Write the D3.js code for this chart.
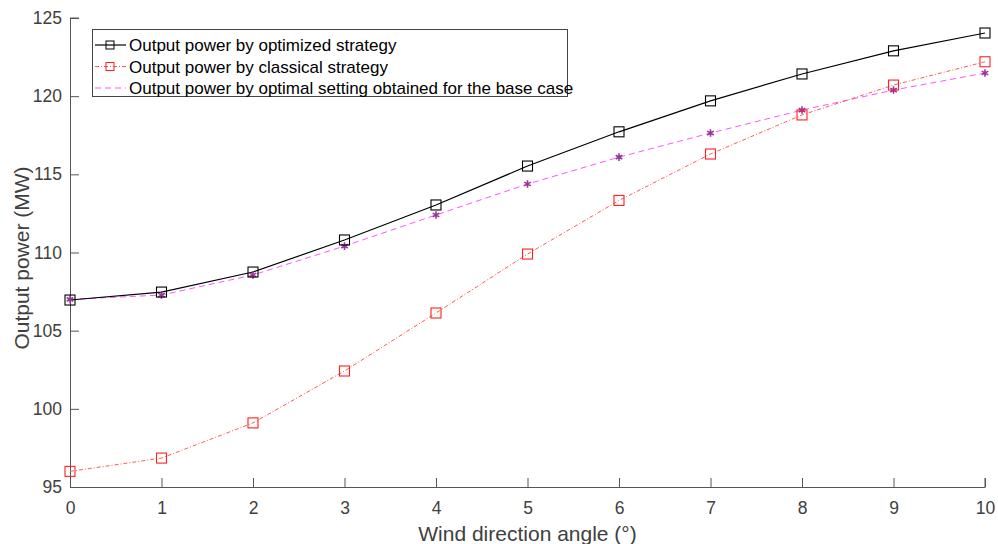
<!DOCTYPE html>
<html>
<head>
<meta charset="utf-8">
<script src="https://cdn.jsdelivr.net/npm/d3@7"></script>
<style>
  body { margin: 0; background: #fff; }
  svg { display: block; font-family: Arial, "Liberation Sans", Helvetica, sans-serif; }
</style>
</head>
<body>
<svg id="chart" width="998" height="544"></svg>
<script>
// wind direction angle (deg)
const angles = [0, 1, 2, 3, 4, 5, 6, 7, 8, 9, 10];
const optimized = [106.96, 107.47, 108.75, 110.8, 113.04, 115.53, 117.72, 119.7, 121.42, 122.9, 124.04];
const classical = [96.0, 96.85, 99.1, 102.42, 106.13, 109.9, 113.33, 116.3, 118.8, 120.71, 122.2];
const baseCase = [107.0, 107.28, 108.56, 110.41, 112.4, 114.38, 116.1, 117.64, 119.11, 120.39, 121.48];
const yTicks = [95, 100, 105, 110, 115, 120, 125];
const legendLabels = [
  "Output power by optimized strategy",
  "Output power by classical strategy",
  "Output power by optimal setting obtained for the base case"
];

const svg = d3.select("#chart");
const margin = { left: 70, right: 13, top: 18, bottom: 57 };
const width = 998, height = 544;

const x = d3.scaleLinear().domain([0, 10]).range([margin.left, width - margin.right]);
const y = d3.scaleLinear().domain([95, 125]).range([height - margin.bottom, margin.top]);

const axisColor = "#555";
const textColor = "#404040";

// axes (ticks point inward like MATLAB)
const xAxis = svg.append("g")
  .attr("transform", `translate(0,${y(95)})`)
  .call(d3.axisBottom(x).tickValues(angles).tickSize(-9).tickPadding(15).tickSizeOuter(0));
const yAxis = svg.append("g")
  .attr("transform", `translate(${x(0)},0)`)
  .call(d3.axisLeft(y).tickValues(yTicks).tickSize(-9).tickPadding(8).tickSizeOuter(0));

[xAxis, yAxis].forEach(ax => {
  ax.select(".domain").attr("stroke", axisColor);
  ax.selectAll(".tick line").attr("stroke", axisColor);
  ax.selectAll(".tick text").attr("fill", textColor).style("font-size", "17.5px");
});
// small top / right stubs at axis ends
svg.append("line").attr("x1", x(0)).attr("x2", x(0) + 9).attr("y1", y(125)).attr("y2", y(125)).attr("stroke", axisColor);
svg.append("line").attr("x1", x(10)).attr("x2", x(10)).attr("y1", y(95)).attr("y2", y(95) - 9).attr("stroke", axisColor);

svg.append("text")
  .attr("x", (x(0) + x(10)) / 2).attr("y", 541)
  .attr("text-anchor", "middle").attr("fill", textColor)
  .style("font-size", "21px")
  .text("Wind direction angle (°)");

svg.append("text")
  .attr("transform", "translate(29,258) rotate(-90)")
  .attr("text-anchor", "middle").attr("fill", textColor)
  .style("font-size", "21px")
  .text("Output power (MW)");

const line = d3.line().x((d, i) => x(angles[i])).y(d => y(d));

const series = [
  { values: optimized, stroke: "#000", dash: null, width: 1.2, marker: "square", mcolor: "#000" },
  { values: classical, stroke: "#ff5a5a", dash: "4,2,1,2", width: 1, marker: "square", mcolor: "#ff2020" },
  { values: baseCase, stroke: "#ff55ff", dash: "6,4", width: 1, marker: "star", mcolor: "#993399" }
];

// draw base case first so black sits on top
[series[2], series[1], series[0]].forEach(s => {
  svg.append("path")
    .datum(s.values)
    .attr("d", line)
    .attr("fill", "none")
    .attr("stroke", s.stroke)
    .attr("stroke-width", s.width)
    .attr("stroke-dasharray", s.dash);
});

const star = d3.symbol().type(d3.symbolAsterisk).size(40);

function drawMarker(g, s, cx, cy) {
  if (s.marker === "square") {
    g.append("rect")
      .attr("x", cx - 5).attr("y", cy - 5)
      .attr("width", 10).attr("height", 10)
      .attr("fill", "none").attr("stroke", s.mcolor).attr("stroke-width", 1.1);
  } else {
    g.append("path")
      .attr("transform", `translate(${cx},${cy})`)
      .attr("d", star)
      .attr("stroke", s.mcolor).attr("stroke-width", 1.6).attr("fill", "none");
  }
}

const markers = svg.append("g");
[series[2], series[1], series[0]].forEach(s => {
  s.values.forEach((v, i) => drawMarker(markers, s, x(angles[i]), y(v)));
});

// legend
const legend = svg.append("g");
legend.append("rect")
  .attr("x", 92.5).attr("y", 29.5).attr("width", 475).attr("height", 67)
  .attr("fill", "#fff").attr("stroke", "#444").attr("stroke-width", 1);

legendLabels.forEach((label, i) => {
  const s = series[i];
  const ly = 45 + i * 21.5;
  legend.append("line")
    .attr("x1", 95).attr("x2", 126).attr("y1", ly).attr("y2", ly)
    .attr("stroke", s.stroke).attr("stroke-width", s.width)
    .attr("stroke-dasharray", s.dash);
  if (s.marker === "square") {
    legend.append("rect")
      .attr("x", 106).attr("y", ly - 4).attr("width", 8).attr("height", 8)
      .attr("fill", "none").attr("stroke", s.mcolor).attr("stroke-width", 1);
  }
  legend.append("text")
    .attr("x", 129).attr("y", ly + 6)
    .attr("fill", "#000").style("font-size", "17px")
    .text(label);
});
</script>
</body>
</html>
